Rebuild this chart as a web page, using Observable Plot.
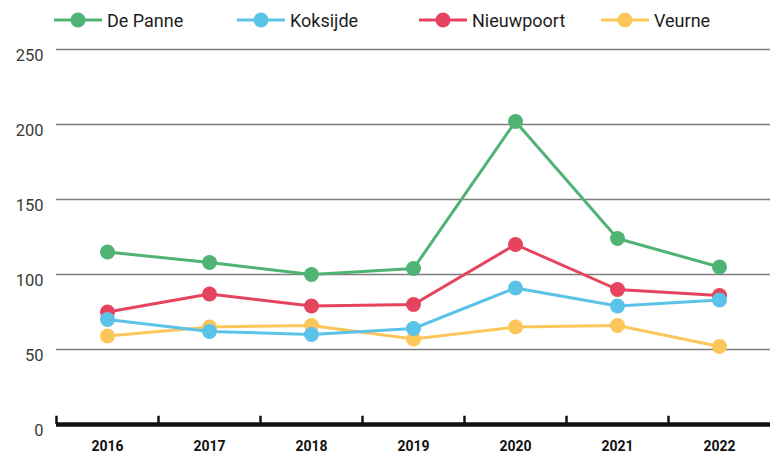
<!DOCTYPE html>
<html>
<head>
<meta charset="utf-8">
<script src="https://cdn.jsdelivr.net/npm/d3@7"></script>
<script src="https://cdn.jsdelivr.net/npm/@observablehq/plot@0.6"></script>
<style>
  html, body { margin: 0; padding: 0; background: #fff; }
  #wrap { width: 770px; height: 455px; position: relative; font-family: Roboto, "Noto Sans", sans-serif; }
  #legend { position: relative; height: 36px; }
  .item { position: absolute; top: 0; height: 40px; display: flex; align-items: center; }
  .item span { font-size: 18px; color: #1e1e1e; margin-left: 5px; }
  #chart { position: relative; z-index: 1; }
</style>
</head>
<body>
<div id="wrap">
  <div id="legend"></div>
  <div id="chart"></div>
</div>
<script>
const years = [2016, 2017, 2018, 2019, 2020, 2021, 2022];
const seriesNames = ["De Panne", "Koksijde", "Nieuwpoort", "Veurne"];
const seriesColors = ["#4fb374", "#5bc2e8", "#e6435f", "#fdc65b"];
const dePanne    = [115, 108, 100, 104, 202, 124, 105];
const koksijde   = [70, 62, 60, 64, 91, 79, 83];
const nieuwpoort = [75, 87, 79, 80, 120, 90, 86];
const veurne     = [59, 65, 66, 57, 65, 66, 52];
const yTicks = [0, 50, 100, 150, 200, 250];
const gridValues = [50, 100, 150, 200, 250];

const valuesByName = {"De Panne": dePanne, "Koksijde": koksijde, "Nieuwpoort": nieuwpoort, "Veurne": veurne};
const drawOrder = ["De Panne", "Veurne", "Nieuwpoort", "Koksijde"];
const colorOf = name => seriesColors[seriesNames.indexOf(name)];
const boundaries = years.map(y => y - 0.5);

// Legend
const legendLefts = [54, 237, 419, 601];
const legend = d3.select("#legend");
seriesNames.forEach((name, i) => {
  const item = legend.append("div").attr("class", "item").style("left", legendLefts[i] + "px");
  const svg = item.append("svg").attr("width", 48).attr("height", 18);
  svg.append("line").attr("x1", 0).attr("x2", 48).attr("y1", 9).attr("y2", 9)
    .attr("stroke", seriesColors[i]).attr("stroke-width", 3);
  svg.append("circle").attr("cx", 24).attr("cy", 9).attr("r", 7.5).attr("fill", seriesColors[i]);
  item.append("span").text(name);
});

const marks = [
  Plot.ruleY(gridValues, {stroke: "#7d7d7d", strokeWidth: 1.5}),
  Plot.ruleY([0], {stroke: "#111", strokeWidth: 4.5}),
  Plot.ruleX(boundaries, {y1: 0, y2: 5.5, stroke: "#111", strokeWidth: 2.5}),
  Plot.axisY({ticks: yTicks, tickSize: 0, tickPadding: 13, dy: 6, fontSize: 16.5, fill: "#3a3a3a", label: null}),
  Plot.axisX({ticks: years, tickFormat: d => String(d), tickSize: 0, tickPadding: 17, fontSize: 14, fontWeight: "bold", fill: "#111", label: null})
];
drawOrder.forEach(name => {
  const data = years.map((y, i) => ({year: y, value: valuesByName[name][i]}));
  marks.push(Plot.lineY(data, {x: "year", y: "value", stroke: colorOf(name), strokeWidth: 3}));
  marks.push(Plot.dot(data, {x: "year", y: "value", r: 7.5, fill: colorOf(name), stroke: "none"}));
});

const chart = Plot.plot({
  width: 770,
  height: 419,
  marginTop: 13,
  marginBottom: 31,
  marginLeft: 56,
  marginRight: 0,
  x: {type: "linear", domain: [2015.5, 2022.5]},
  y: {domain: [0, 250]},
  style: {fontFamily: "Roboto, 'Noto Sans', sans-serif", background: "transparent", overflow: "visible"},
  marks
});
document.getElementById("chart").appendChild(chart);
</script>
</body>
</html>
